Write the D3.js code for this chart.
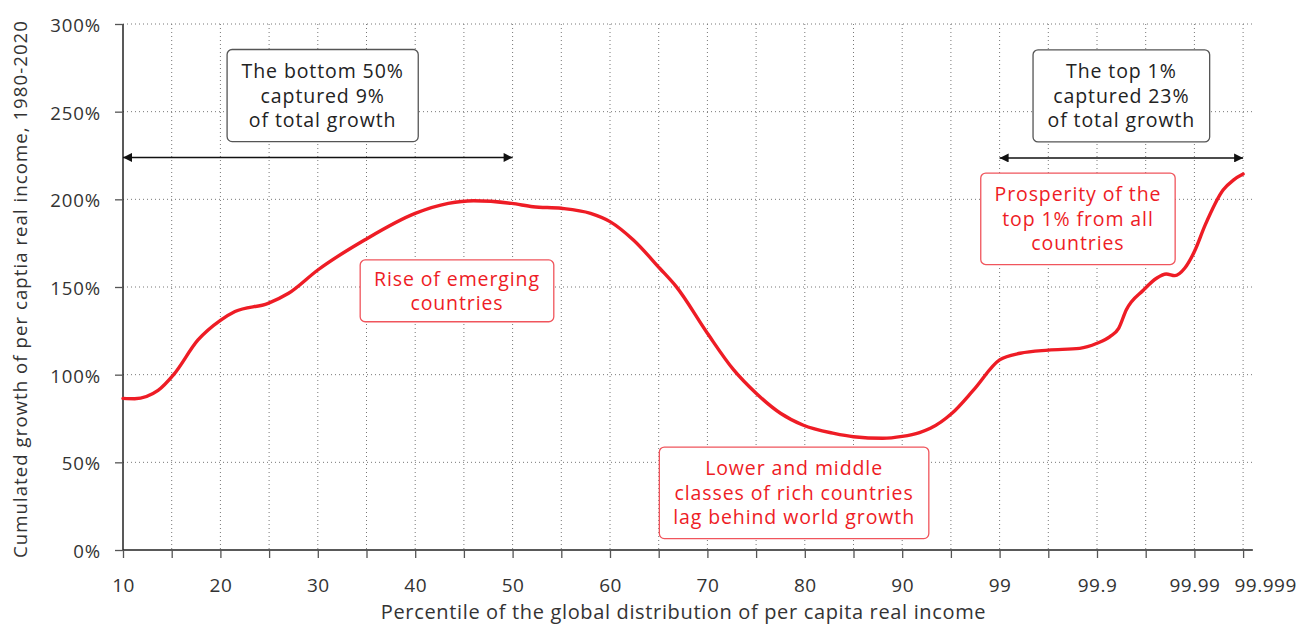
<!DOCTYPE html>
<html>
<head>
<meta charset="utf-8">
<script src="https://cdn.jsdelivr.net/npm/d3@7"></script>
<style>
  html, body { margin: 0; padding: 0; background: #fff; }
  svg { display: block; font-family: "Open Sans", "Noto Sans", sans-serif; }
</style>
</head>
<body>
<svg id="chart" width="1301" height="626"></svg>
<script>
// ---- data ----
const percentiles = [10, 11.2, 13.6, 15.2, 17.7, 20, 21.5, 24.9, 27, 30, 34.8, 40, 43.4, 46, 49.9, 52.1, 55, 58, 60, 62.4, 65.1, 66.8, 70, 72.7, 75, 77.5, 79.8, 83, 85, 88, 90, 91.6, 92.6, 94.6, 96.6, 99, 99.19, 99.45, 99.74, 99.9, 99.912, 99.92, 99.927, 99.943, 99.955, 99.964, 99.972, 99.981, 99.99, 99.992, 99.9953, 99.9972, 99.999];
const growth = [86.5, 86.3, 91, 100, 119.8, 131, 136, 140.7, 146.4, 159.7, 176.8, 192, 197.7, 199.2, 197.7, 195.8, 194.9, 192, 187.3, 176.8, 160.7, 150.2, 123.6, 102.7, 89.4, 78, 71.3, 66.5, 64.6, 63.7, 64.8, 67, 69.4, 78, 91.3, 108.4, 112.2, 114, 115, 117.9, 121.7, 126.4, 136.9, 148.3, 155, 157.4, 156.5, 160.7, 170.2, 185.4, 205.3, 211, 214.4];
const xTickValues = [10, 20, 30, 40, 50, 60, 70, 80, 90, 99, 99.9, 99.99, 99.999];
const xTickLabels = ["10", "20", "30", "40", "50", "60", "70", "80", "90", "99", "99.9", "99.99", "99.999"];
const yTickValues = [0, 50, 100, 150, 200, 250, 300];
const xTitle = "Percentile of the global distribution of per capita real income";
const yTitle = "Cumulated growth of per captia real income, 1980-2020";
const blackNotes = [
  { lines: ["The bottom 50%", "captured 9%", "of total growth"], from: 10, to: 50, at: 30.5, level: 259.2, arrowLevel: 223.9 },
  { lines: ["The top 1%", "captured 23%", "of total growth"], from: 99, to: 99.999, at: 99.9225, level: 259, arrowLevel: 223.6 }
];
const redNotes = [
  { lines: ["Rise of emerging", "countries"], at: 44.29, level: 147.8 },
  { lines: ["Lower and middle", "classes of rich countries", "lag behind world growth"], at: 78.9, level: 32.6 },
  { lines: ["Prosperity of the", "top 1% from all", "countries"], at: 99.724, level: 188.9 }
];

// ---- layout ----
const svg = d3.select("#chart");
const plotLeft = 123, plotTop = 24, plotBottom = 550;
const unit = 48.7;               // pixels per minor step
const axisEnd = plotLeft + 23.2 * unit;
const RED = "#ee1c25";
const TEXT = "#333";

// piecewise x scale over the percentile values (non-uniform tail)
const x = d3.scaleLinear()
  .domain([10, 90, 99, 99.9, 99.99, 99.999])
  .range([0, 16, 18, 20, 22, 23].map(u => plotLeft + u * unit));
const y = d3.scaleLinear().domain([0, 300]).range([plotBottom, plotTop]);

// minor tick positions: midpoints (in pixels) between major ticks
const majorPx = xTickValues.map(v => x(v));
const minorVals = [];
for (let i = 0; i < xTickValues.length - 1; i++) {
  const gap = majorPx[i + 1] - majorPx[i];
  if (gap > unit * 1.5) minorVals.push(x.invert((majorPx[i] + majorPx[i + 1]) / 2));
}
const allXTicks = xTickValues.concat(minorVals).sort((a, b) => a - b);

// ---- grid ----
const grid = svg.append("g");
grid.selectAll("line.v").data(allXTicks.filter(v => v !== 10)).join("line")
  .attr("x1", d => x(d)).attr("x2", d => x(d))
  .attr("y1", plotTop).attr("y2", plotBottom)
  .attr("stroke", "#777").attr("stroke-width", 1).attr("stroke-dasharray", "1,3");
grid.selectAll("line.h").data(yTickValues.filter(v => v !== 0)).join("line")
  .attr("x1", plotLeft).attr("x2", axisEnd)
  .attr("y1", d => y(d)).attr("y2", d => y(d))
  .attr("stroke", "#777").attr("stroke-width", 1).attr("stroke-dasharray", "1,3");

// ---- axes ----
const xAxis = d3.axisBottom(x).tickValues(allXTicks).tickSize(8).tickPadding(21)
  .tickFormat(d => { const i = xTickValues.indexOf(d); return i >= 0 ? xTickLabels[i] : ""; });
const gx = svg.append("g").attr("transform", `translate(0,${plotBottom})`).call(xAxis);
gx.select(".domain").attr("d", `M${plotLeft},0H${axisEnd}`).attr("stroke", "#222").attr("stroke-width", 1.5);
gx.selectAll(".tick line").attr("stroke", "#555").attr("stroke-width", 1.3);
gx.selectAll(".tick text").attr("fill", TEXT).attr("dy", "0.71em")
  .style("font-size", "19px").style("letter-spacing", "0.5px")
  .style("font-family", "'Open Sans', sans-serif")
  .attr("dx", d => d === xTickValues[xTickValues.length - 1] ? 22 : 0);

const yAxis = d3.axisLeft(y).tickValues(yTickValues).tickSize(8).tickPadding(14).tickFormat(d => d + "%");
const gy = svg.append("g").attr("transform", `translate(${plotLeft},0)`).call(yAxis);
gy.select(".domain").attr("d", `M0,${plotTop}V${plotBottom}`).attr("stroke", "#222").attr("stroke-width", 1.5);
gy.selectAll(".tick line").attr("stroke", "#555").attr("stroke-width", 1.3);
gy.selectAll(".tick text").attr("fill", TEXT).attr("dy", "0.4em")
  .style("font-size", "18.6px").style("letter-spacing", "0.9px")
  .style("font-family", "'Open Sans', sans-serif");

// ---- titles ----
svg.append("text").attr("x", 683.5).attr("y", 619).attr("text-anchor", "middle")
  .attr("fill", TEXT).style("font-size", "20px").style("letter-spacing", "0.65px").text(xTitle);
svg.append("text").attr("transform", `translate(27,289) rotate(-90)`)
  .attr("text-anchor", "middle").attr("fill", TEXT)
  .style("font-size", "18.6px").style("letter-spacing", "1.05px").text(yTitle);

// ---- curve ----
const pts = percentiles.map((p, i) => [x(p), y(growth[i])]);
svg.append("path").datum(pts)
  .attr("d", d3.line().curve(d3.curveMonotoneX))
  .attr("fill", "none").attr("stroke", RED).attr("stroke-width", 3.4)
  .attr("stroke-linejoin", "round").attr("stroke-linecap", "round");

// ---- arrow markers ----
const defs = svg.append("defs");
defs.append("marker").attr("id", "arrowEnd").attr("viewBox", "0 0 10 10")
  .attr("refX", 10).attr("refY", 5).attr("markerWidth", 12).attr("markerHeight", 9)
  .attr("markerUnits", "userSpaceOnUse").attr("orient", "auto")
  .append("path").attr("d", "M0,0L10,5L0,10Z").attr("fill", "#111");
defs.append("marker").attr("id", "arrowStart").attr("viewBox", "0 0 10 10")
  .attr("refX", 0).attr("refY", 5).attr("markerWidth", 12).attr("markerHeight", 9)
  .attr("markerUnits", "userSpaceOnUse").attr("orient", "auto")
  .append("path").attr("d", "M10,0L0,5L10,10Z").attr("fill", "#111");

function box(g, cx, cy, lines, color, stroke, lineH, padX, padY) {
  const t = g.append("text").attr("text-anchor", "middle")
    .attr("fill", color).style("font-size", "19.5px").style("letter-spacing", "0.9px");
  lines.forEach((l, i) => t.append("tspan")
    .attr("x", cx).attr("y", cy + (i - (lines.length - 1) / 2) * lineH)
    .attr("dy", "0.36em").text(l));
  const w = t.node().getBBox().width;
  const h = lines.length * lineH;
  g.insert("rect", ":first-child")
    .attr("x", cx - w / 2 - padX).attr("y", cy - h / 2 - padY)
    .attr("width", w + 2 * padX).attr("height", h + 2 * padY)
    .attr("rx", 5).attr("fill", "#fff").attr("stroke", stroke).attr("stroke-width", 1.3);
}

blackNotes.forEach(n => {
  svg.append("line").attr("x1", x(n.from)).attr("x2", x(n.to))
    .attr("y1", y(n.arrowLevel)).attr("y2", y(n.arrowLevel))
    .attr("stroke", "#111").attr("stroke-width", 1.6)
    .attr("marker-start", "url(#arrowStart)").attr("marker-end", "url(#arrowEnd)");
  box(svg.append("g"), x(n.at), y(n.level), n.lines, "#222", "#555", 24.5, 14.5, 9.3);
});

redNotes.forEach(n => {
  const py = n.lines.length === 2 ? 6.4 : 9;
  box(svg.append("g"), x(n.at), y(n.level), n.lines, RED, "#f0555c", 24.5, 13.8, py);
});
</script>
</body>
</html>
